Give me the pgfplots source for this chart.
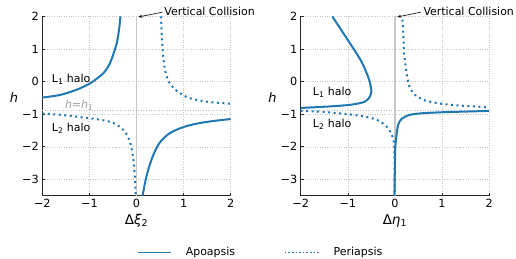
\documentclass[border=0pt]{standalone}
\usepackage{fontspec}
\setmainfont{DejaVu Sans}
\usepackage{pgfplots}
\pgfplotsset{compat=1.18}
\usetikzlibrary{arrows.meta}
\definecolor{cblue}{RGB}{31,119,180}
\definecolor{vgray}{RGB}{200,200,200}
\begin{document}
\begin{tikzpicture}
\path[use as bounding box] (-42.3bp,-63.3bp) rectangle (473.7bp,195.7bp);
\pgfplotsset{
 myaxis/.style={
  scale only axis, width=188.4bp, height=179.4bp,
  xmin=-2,xmax=2,ymin=-3.5,ymax=2,
  xtick={-2,-1,0,1,2}, xticklabels={−2,−1,0,1,2},
  ytick={-3,-2,-1,0,1,2}, yticklabels={−3,−2,−1,0,1,2},
  axis x line*=bottom, axis y line*=left,
  axis line style={-, black!85, line width=0.8bp},
  tick align=inside, major tick length=3bp, tick style={black!85, line width=0.6bp},
  grid=major, major grid style={dotted, gray!45, line width=0.5bp},
  clip=false,
  font=\fontsize{11}{13}\selectfont,
  tick label style={font=\fontsize{11.3}{13}\selectfont},
  ylabel style={rotate=-90, at={(rel axis cs:-0.15,0.545)}, anchor=center, font=\fontsize{13}{15}\selectfont},
  xlabel style={at={(rel axis cs:0.5,-0.139)}, anchor=center, font=\fontsize{13.5}{15}\selectfont},
  ylabel={\textit{h}},
 },
 solidA/.style={cblue, line width=2bp, smooth},
 dotP/.style={cblue, line width=2bp, dash pattern=on 2bp off 3.5bp, smooth},
}
\begin{axis}[myaxis, xlabel={Δ\textit{ξ}\textsubscript{2}},
  legend columns=2,
  legend style={at={(0.487,-0.3155)}, anchor=west, draw=none, fill=none,
    font=\fontsize{11}{13}\selectfont,
    /tikz/every odd column/.append style={column sep=12bp},
    /tikz/every even column/.append style={column sep=47bp}},
  legend image code/.code={\draw[#1, line width=1.6bp] (0bp,0bp) -- (33bp,0bp);},
]
\addplot[vgray, line width=1.5bp, forget plot] coordinates {(0,-3.5) (0,2)};
\addplot[gray!50, dotted, line width=0.6bp, forget plot] coordinates {(-2,-0.87) (2,-0.87)};
\addplot[solidA] coordinates {(-2,-0.49) (-1.62,-0.41) (-1.27,-0.25) (-0.99,-0.06) (-0.85,0.08) (-0.70,0.26) (-0.60,0.46) (-0.53,0.68) (-0.42,1.17) (-0.37,1.6) (-0.34,2.0)};
\addlegendentry{Apoapsis}
\addplot[dotP, legend image code/.code={\draw[cblue, line width=1.5bp, dash pattern=on 1.5bp off 2.1bp] (0bp,0bp) -- (34bp,0bp);}] coordinates {(0.52,2.0) (0.535,1.48) (0.55,1.07) (0.57,0.72) (0.605,0.36) (0.675,0.02) (0.76,-0.15) (0.85,-0.28) (1.07,-0.48) (1.31,-0.57) (1.56,-0.63) (2.0,-0.68)};
\addlegendentry{Periapsis}
\addplot[solidA, forget plot] coordinates {(0.13,-3.5) (0.18,-3.11) (0.25,-2.70) (0.36,-2.24) (0.50,-1.86) (0.71,-1.58) (0.99,-1.40) (1.28,-1.29) (1.63,-1.21) (2.0,-1.15)};
\addplot[dotP, forget plot] coordinates {(-2,-0.98) (-1.62,-1.02) (-1.2,-1.09) (-0.775,-1.17) (-0.49,-1.27) (-0.28,-1.48) (-0.17,-1.73) (-0.10,-2.09) (-0.05,-2.6) (-0.017,-3.5)};
\node[anchor=west, inner sep=0] at (axis cs:-1.80,0.08) {L\textsubscript{1} halo};
\node[anchor=west, inner sep=0] at (axis cs:-1.80,-1.43) {L\textsubscript{2} halo};
\node[anchor=west, inner sep=0, text=gray!75] at (axis cs:-1.52,-0.73) {\textit{h}=\textit{h}\textsubscript{\textit{1}}};
\node[anchor=west, inner sep=0] at (axis cs:0.59,2.14) {Vertical Collision};
\draw[-{Stealth[length=4bp,width=3bp]}, line width=0.6bp] (axis cs:0.548,2.125) -- (axis cs:0.04,1.98);
\end{axis}
\begin{axis}[myaxis, at={(258.4bp,0bp)}, xlabel={Δ\textit{η}\textsubscript{1}}]
\addplot[vgray, line width=1.5bp] coordinates {(0,-3.5) (0,2)};
\addplot[gray!50, dotted, line width=0.6bp] coordinates {(-2,-0.87) (2,-0.87)};
\addplot[solidA] coordinates {(-1.33,2.0) (-1.14,1.58) (-0.93,1.12) (-0.71,0.61) (-0.57,0.15) (-0.52,-0.10) (-0.50,-0.30) (-0.53,-0.46) (-0.64,-0.62) (-0.93,-0.71) (-1.35,-0.76) (-2,-0.81)};
\addplot[dotP] coordinates {(0.16,1.9) (0.18,1.38) (0.19,0.97) (0.22,0.56) (0.26,0.15) (0.32,-0.20) (0.43,-0.41) (0.60,-0.56) (0.89,-0.66) (1.31,-0.73) (2.0,-0.79)};
\addplot[solidA] coordinates {(-0.01,-3.5) (0.0,-2.6) (0.01,-1.99) (0.04,-1.58) (0.07,-1.32) (0.14,-1.15) (0.32,-1.02) (0.60,-0.97) (1.03,-0.94) (1.52,-0.92) (2.0,-0.90)};
\addplot[dotP] coordinates {(-2,-0.90) (-1.63,-0.92) (-1.21,-0.97) (-0.78,-1.04) (-0.43,-1.15) (-0.22,-1.32) (-0.08,-1.58) (-0.02,-1.88) (-0.008,-2.4) (-0.008,-3.5)};
\node[anchor=west, inner sep=0] at (axis cs:-1.745,-0.34) {L\textsubscript{1} halo};
\node[anchor=west, inner sep=0] at (axis cs:-1.745,-1.32) {L\textsubscript{2} halo};
\node[anchor=west, inner sep=0] at (axis cs:0.603,2.14) {Vertical Collision};
\draw[-{Stealth[length=4bp,width=3bp]}, line width=0.6bp] (axis cs:0.548,2.125) -- (axis cs:0.05,1.98);
\end{axis}
\end{tikzpicture}
\end{document}
